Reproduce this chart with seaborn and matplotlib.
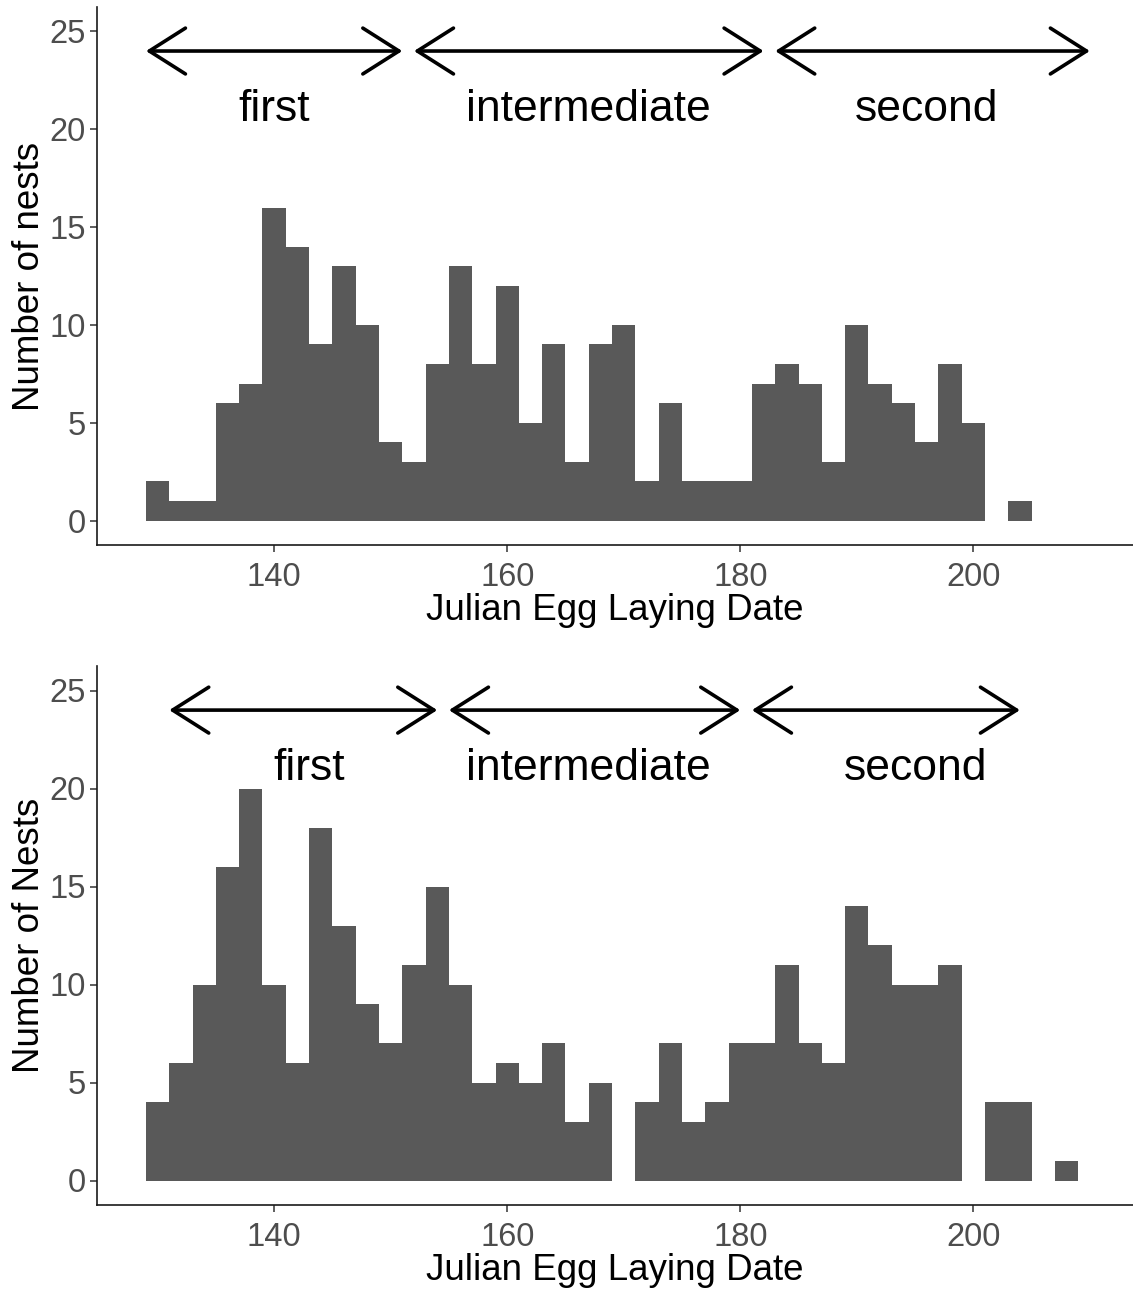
import numpy as np
import pandas as pd
import matplotlib
matplotlib.use("Agg")
import matplotlib.pyplot as plt
import seaborn as sns

# ---- data (bin left edges, binwidth 2) ----
top_bin_starts = [129, 131, 133, 135, 137, 139, 141, 143, 145, 147, 149, 151, 153, 155,
                  157, 159, 161, 163, 165, 167, 169, 171, 173, 175, 177, 179, 181, 183,
                  185, 187, 189, 191, 193, 195, 197, 199, 201, 203]
top_counts = [2, 1, 1, 6, 7, 16, 14, 9, 13, 10, 4, 3, 8, 13,
              8, 12, 5, 9, 3, 9, 10, 2, 6, 2, 2, 2, 7, 8,
              7, 3, 10, 7, 6, 4, 8, 5, 0, 1]

bot_bin_starts = [129, 131, 133, 135, 137, 139, 141, 143, 145, 147, 149, 151, 153, 155,
                  157, 159, 161, 163, 165, 167, 169, 171, 173, 175, 177, 179, 181, 183,
                  185, 187, 189, 191, 193, 195, 197, 199, 201, 203, 205, 207]
bot_counts = [4, 6, 10, 16, 20, 10, 6, 18, 13, 9, 7, 11, 15, 10,
              5, 6, 5, 7, 3, 5, 0, 4, 7, 3, 4, 7, 7, 11,
              7, 6, 14, 12, 10, 10, 11, 0, 4, 4, 0, 1]

period_labels = ["first", "intermediate", "second"]
top_arrow_ranges = [(129, 151), (152, 182), (183, 210)]
top_label_x = [140, 167, 196]
bot_arrow_ranges = [(131, 154), (155, 180), (181, 204)]
bot_label_x = [143, 167, 195]
arrow_y = 24
label_y = 21

x_ticks = [140, 160, 180, 200]
y_ticks = [0, 5, 10, 15, 20, 25]
x_title = "Julian Egg Laying Date"
top_ylabel = "Number of nests"
bot_ylabel = "Number of Nests"

# ---- styling ----
sns.set_theme(style="ticks")
plt.rcParams['font.family'] = ['Liberation Sans', 'DejaVu Sans']

W, H = 1133, 1289
fig = plt.figure(figsize=(W / 100, H / 100), dpi=100)

def px_axes(left, top, right, bottom):
    return fig.add_axes([left / W, 1 - bottom / H, (right - left) / W, (bottom - top) / H])

ax_top = px_axes(97, 7, 1133, 545)
ax_bot = px_axes(97, 666, 1133, 1205)

BAR = "#595959"

def draw(ax, starts, counts, arrows, labx, ylabel):
    df = pd.DataFrame({"day": np.array(starts, dtype=float) + 1.0,
                       "n": np.array(counts, dtype=float)})
    sns.histplot(data=df, x="day", weights="n", binwidth=2,
                 binrange=(min(starts), max(starts) + 2), ax=ax,
                 color=BAR, alpha=1, edgecolor=BAR, linewidth=0)
    ax.set_xlim(124.8, 213.7)
    ax.set_ylim(-1.25, 26.25)
    ax.set_xticks(x_ticks)
    ax.set_yticks(y_ticks)
    ax.tick_params(axis="both", labelsize=23.5, colors="#333333", labelcolor="#4D4D4D",
                   length=5, width=1.1, pad=3)
    ax.tick_params(axis="x", pad=7)
    for s in ["top", "right"]:
        ax.spines[s].set_visible(False)
    for s in ["left", "bottom"]:
        ax.spines[s].set_linewidth(1.2)
        ax.spines[s].set_color("#1a1a1a")
    ax.set_xlabel(x_title, fontsize=26.5, color="black", labelpad=0)
    ax.set_ylabel(ylabel, fontsize=26.5, color="black", labelpad=2)
    for (a, b), lx, lab in zip(arrows, labx, period_labels):
        ax.annotate("", xy=(b, arrow_y), xytext=(a, arrow_y),
                    arrowprops=dict(arrowstyle="<->,head_length=2.6,head_width=1.65",
                                    lw=2.6, color="black", shrinkA=0, shrinkB=0,
                                    mutation_scale=10))
        ax.text(lx, label_y, lab, ha="center", va="center", fontsize=32, color="black")

draw(ax_top, top_bin_starts, top_counts, top_arrow_ranges, top_label_x, top_ylabel)
draw(ax_bot, bot_bin_starts, bot_counts, bot_arrow_ranges, bot_label_x, bot_ylabel)

fig.savefig("out.png", dpi=100)
